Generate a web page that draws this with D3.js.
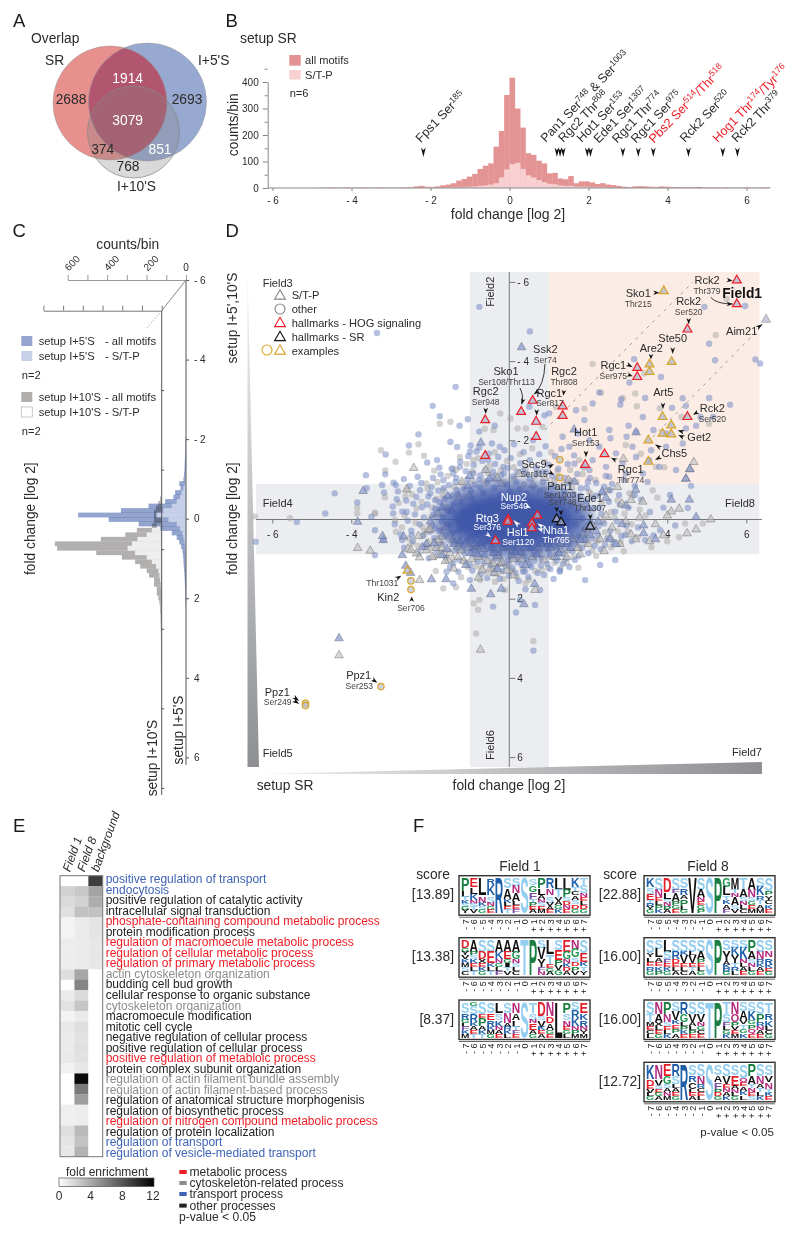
<!DOCTYPE html>
<html><head><meta charset="utf-8">
<script src="https://cdn.jsdelivr.net/npm/d3@7"></script>
<style>html,body{margin:0;background:#fff}svg{display:block;font-family:"Liberation Sans",Arial,sans-serif}</style>
</head><body><script>
// ---------- DATA ----------
const vennCounts = {sr:2688, sr5:1914, i5:2693, all:3079, sr10:374, i510:851, i10:768};

const histBinWidth = 0.135;
const histFirstBin = -36; // bin index of first value, bin k starts at k*width
const histAll = [1,1,2,1,1,2,1,1,2,1,1,2,1,1,1,2,2,3,6,8,5,4,6,10,13,18,28,34,43,53,72,84,93,156,215,351,416,300,228,131,125,103,93,55,57,36,33,45,18,25,25,21,15,18,13,11,8,5,3,6,7,6,5,4,6,5,4,3,2,3,2,4,2,2,2,1,2,1,1,1,2,1,1,2,2];
const histSTP = [0,0,0,0,0,0,0,1,0,0,1,0,0,1,0,0,0,1,1,1,2,2,1,1,2,3,3,4,5,6,8,10,13,18,40,70,90,95,72,48,40,30,22,16,14,10,8,8,5,5,5,4,3,3,2,2,1,1,1,1,1,1,1,1,1,1,1,0,0,1,0,0,1,0,0,0,0,1,0,0,0,0,0,0,0];
const markerLog2 = [-2.18,1.20,1.28,1.36,1.97,2.05,2.87,3.26,3.64,4.53,5.40,5.77];
const markerLabels = [
 {t:"Fps1 Ser",s:"185"},
 {t:"Pan1 Ser",s:"748",t2:" & Ser",s2:"1003"},
 {t:"Rgc2 Thr",s:"808"},
 {t:"Hot1 Ser",s:"153"},
 {t:"Ede1 Ser",s:"1307"},
 {t:"Rgc1 Thr",s:"774"},
 {t:"Rgc1 Ser",s:"975"},
 {t:"Pbs2 Ser",s:"514",t2:"/Thr",s2:"518",red:1},
 {t:"Rck2 Ser",s:"520"},
 {t:"Hog1 Thr",s:"174",t2:"/Tyr",s2:"176",red:1},
 {t:"Rck2 Thr",s:"379"}];

const rotBinWidth = 0.113;
const rot5Start = -2.074;
const rot5All = [2,3,3,4,5,6,7,8,10,13,34,28,55,64,106,190,330,547,392,240,130,72,47,34,25,18,15,13,12,10,8,7,6,5,4,3,3,2];
const rot5STP = [0,0,0,0,0,1,1,2,3,4,6,13,22,30,47,72,115,150,89,47,30,18,13,8,6,4,3,2,2,1,1,1,0,0,0,0,0,0];
const rot10Start = -1.327;
const rot10All = [8,17,29,39,39,39,50,126,185,308,542,530,332,202,135,109,76,64,39,39,25,25,17,12,8,8,6,6,5,5,4,4,3,3,3,3,2,2];
const rot10STP = [0,0,0,0,0,0,25,50,76,123,151,173,135,76,50,29,17,12,8,5,3,2,1,1,1,0,0,0,0,0,0,0,0,0,0,0,0,0];

const dotsBlue = [[-.76,-5.37],[-3.35,-4.71],[-1.36,-3.35],[-1.94,-2.87],[-1.76,-2.61],[-1.26,-2.37],[-1.05,-2.53],[-.37,-2.37],[-.76,-2.22],[-2.3,-2.15],[-1.49,-1.96],[-2.54,-1.87],[-3.13,-1.64],[-.98,-1.87],[-1,-1.71],[-1.32,-1.83],[-.76,-1.82],[-1.83,-1.5],[-2.08,-1.44],[-1.77,-1.31],[-3.63,-1.12],[-3.14,-1.14],[-2.67,-1.02],[-2.32,-1.08],[-2.93,-.93],[-3.22,-.87],[-3.61,-.79],[-2.87,-.87],[-4.42,-.66],[-3.17,-.68],[-3.85,-.43],[-4.66,-.15],[-2.85,-.51],[-2.26,-.74],[-1.97,-.82],[-1.67,-.99],[-1.42,-1.16],[-1.25,-1.33],[-.91,-1.16],[-.53,-1.5],[-.24,-1.84],[-.15,-1.33],[-.41,-1.08],[-.74,-.82],[-1.33,-.74],[-1.88,-.49],[-2.43,-.4],[-2.6,-.19],[-2.94,-.15],[-3.49,-.07],[-5.38,.06],[-6.42,.56],[-3.4,.9],[-3.4,.27],[-3.19,.52],[-2.71,.52],[-2.47,.39],[-2.01,.31],[-1.42,1.61],[-1.29,1.32],[-.41,2.2],[.17,2.35],[.61,3.31],[.35,1.32],[.41,1.76],[-1,1.53],[-1.59,1.32],[-1.42,1.11],[-1.84,.69],
[.52,-4.75],[5.06,-4.44],[5.21,-4.02],[6.23,-4.04],[6.35,-3.94],[5.97,-5.39],[4.94,-5.37],[3.84,-3.6],[3.04,-3.46],[3.16,-4.05],[2.28,-3.21],[2.81,-2.9],[3.44,-3.07],[2.83,-3.03],[4.39,-3.06],[5.06,-3.07],[5.59,-2.9],[4.47,-2.87],[4.84,-2.59],[5.16,-2.59],[4.12,-2.82],[3.38,-2.59],[3.02,-2.37],[3.21,-2.21],[3.65,-2.26],[3.97,-2.17],[4.47,-2.3],[4.73,-2.37],[2.11,-2.93],[1.01,-2.68],[.89,-2.63],[.51,-2.85],[1.69,-2.76],[1.9,-2.51],[2.53,-2.26],[2.56,-2.05],[2.97,-2.09],[3.12,-1.84],[3.59,-1.75],[3.97,-1.84],[4.39,-1.92],[1.73,-2.17],[1.35,-2.09],[2.03,-2],[1.52,-1.84],[2.28,-1.84],[2.7,-1.67],[2.11,-1.5],[1.65,-1.41],[3.21,-1.58],[3.54,-1.5],[2.87,-1.41],[2.45,-1.33],[2.03,-1.25],[2.53,-1.08],[2.95,-1.16],[3.38,-1.16],[3.8,-1.33],[4.22,-1.25],
[2.55,-.74],[2.8,-.37],[3.18,-.62],[3.56,-.19],[4.07,-.62],[4.52,-.29],[3.44,.52],[2.93,.39],[3.82,.27],[2.42,.64],[2.3,1.15],[1.92,1.53],[1.28,1.28],[.78,1.78],[1.66,1.02],[2.68,1.02],[.52,1.15],[1.03,.9],[.65,2.16],[.27,2.03],
[-2.21,-.31],[-2.05,-.58],[-1.92,-.12],[-1.88,.21],[-1.76,-.44],[-1.71,.05],[-1.66,-.79],[-1.62,.38],[-1.55,-.23],[-1.49,.14],[-1.44,-.61],[-1.41,.52],[-1.36,-.95],[-1.33,-.07],[-1.28,.29],[-1.22,-.41],[-1.18,.66],[-1.15,-.78],[-1.11,.11],[-1.06,-1.02],[-1.02,-.19],[-.98,.44],[-.95,-.55],[-.91,.78],[-.88,-.88],[-.84,.02],[-.81,.31],[-.77,-.33],[-.73,-1.11],[-.7,.59],[-.66,-.68],[-.63,.9],[-.6,-.12],[-.55,-.97],[-.52,.24],[-.48,-.49],[-.45,.72],[-.41,-1.21],[-.38,-.8],[-.35,.98],[-.3,-1],[-.26,.85],[-.22,-.62],[-.19,1.12],[-.14,-1.17],[-.11,.63],[-.07,-.88],[-.03,1.04],[.02,-.71],[.06,.88],[.1,-1.09],[.13,.7],[.18,-.94],[.22,1.08],[.26,-.77],[.31,.82],[.35,-1.24],[.38,.93],[.43,-.66],[.47,1.02],[.52,-1.03],[.56,.74],[.6,-.82],[.64,.9],[.69,-1.15],[.72,.63],[.77,-.73],[.81,.99],[.86,-.95],[.9,.55],[.94,-1.2],[.99,.76],[1.03,-.62],[1.08,.44],[1.12,-.84],[1.17,.68],[1.22,-1.06],[1.26,.33],[1.3,-.48],[1.35,.87],[1.39,-.71],[1.44,.21],[1.49,-.92],[1.53,.58],[1.57,-.36],[1.62,-.64],[1.67,.12],[1.71,-.22],[1.76,.41],[1.81,-.79],[1.85,-.03],[1.9,.25],[1.95,-.46],[1.99,-.95],[2.04,.09],[2.09,.48],[2.14,-.28],[2.2,-.6],[2.26,.17],[2.33,-.14],[2.4,-.83],
[-2.95,-.33],[-2.9,.12],[-2.82,-.71],[-2.75,.38],[-2.71,-.2],[-2.66,.71],[-2.61,-.48],[-2.57,.03],[-2.52,-.85],[-2.48,.28],[-2.44,.55],[-2.39,-.13],[-2.35,-.57],[-2.3,.86],[-2.27,.12],[-2.23,-.92],[-2.19,.41],[-2.16,-.05],[-2.12,.69],[-2.08,-.38],[-2.04,.98],[-2,-.66],[-1.96,.16],[-1.93,-1.05],[-1.9,.47],[-1.87,-.27],[-1.84,.83],[-1.8,-.73],[-1.77,.29],[-1.74,-1.14],[-1.7,.63],[-1.68,-.06],[-1.64,-.52],[-1.6,.95],[-1.57,.12],[-1.53,-.87],[-1.5,1.2],[-1.46,-1.28],[-1.43,.33],[-1.4,-.4],[-1.37,.78],[-1.34,-1.05],[-1.3,-.63],[-1.27,1.02],[-1.24,-1.46],[-1.2,.23],[-1.17,-.2],[-1.14,.86],[-1.1,-1.22],[-1.07,.53],[-1.04,-1.6],[-1,1.15],[-.97,-.72],[-.94,1.29],[-.9,-1.38],[-.87,.39],[-.83,-1.72],[-.8,1.06],[-.76,-1],[-.72,1.38],[-.68,-1.48],[-.64,1.1],[-.6,-1.25],[-.56,1.48],[-.52,-1.66],[-.48,1.15],[-.44,-1.92],[-.4,1.36],[-.36,-1.4],[-.32,1.22],[-.28,-1.58],[-.24,1.5],[-.2,-1.12],[-.16,1.3],[-.12,-1.75],[-.08,1.18],[-.04,-1.3],[0,1.42],[.04,-1.55],[.08,1.22],[.12,-1.9],[.16,1.35],[.2,-1.2],[.24,1.55],[.28,-1.42],[.32,1.15],[.36,-1.7],[.4,1.3],[.44,-1.15],[.48,1.45],[.52,-1.5],[.56,1.2],[.6,-2],[.64,1.05],[.68,-1.3],[.72,1.35],[.76,-1.65],[.8,1.16],[.84,-1.2],[.88,1.4],[.92,-1.85],[.96,1.12],[1,-1.38],[1.04,1.25],[1.08,-1.1],[1.12,1.5],[1.16,-1.6],[1.2,1.05],[1.24,-1.28],[1.28,1.32],[1.32,-1.78],[1.36,1.12],[1.4,-1.05],[1.44,.98],[1.48,-1.4],[1.52,1.2],[1.56,-.98],[1.6,.8],[1.64,-1.62],[1.68,.62],[1.72,-1.15],[1.76,.92],[1.8,-.6],[1.84,.72],[1.88,-1.32],[1.92,.5],[1.96,-.8],[2,.85],[2.04,-1.05],[2.08,.22],[2.12,-.55],[2.16,.66],[2.2,-.92],[2.24,.4],[2.28,-.3],[2.32,.75],[2.36,-.68],[2.4,.1],[2.44,-1.1],[2.48,.48],[2.52,-.45],[2.56,.28],[2.6,-.9],[2.64,.58],[2.68,-.2],[2.72,.05],[2.78,-.62],[2.84,.42],[2.9,-1],[2.96,.15],[3.02,-.3],[3.1,.55],[3.18,-.85],[3.26,.2],[3.34,-.5],[3.5,-.95],[3.65,.4],[3.9,-.3],[4.2,.15],[4.6,-.85]];
const dotsGray = [[-1.76,-2.42],[-1.49,-2.47],[-.62,-2.29],[-.4,-2.26],[-.23,-2.68],[.03,-2.55],[-2.3,-1.9],[-3.25,-1.75],[-2.54,-1.69],[-2.16,-1.61],[-2.88,-1.46],[-1.9,-1.23],[-1.42,-1.29],[-3.14,-1.24],[-2.59,-.74],[-3.15,-.56],[-2.63,-.59],[-3.85,-.3],[-3.4,-.15],[-6.44,-.08],[-2.35,-.28],[-1.67,-.74],[-2.1,-.91],[-1.25,-1.58],[-.53,-1.16],[-.91,-1.5],[-1,-.66],
[2.11,-3.93],[5.23,-4.66],[5.5,-5.57],[3.42,-3.69],[3.19,-3.18],[2.87,-3.07],[3.23,-2.86],[3.81,-2.81],[4.36,-2.59],[5.06,-2.42],[3.92,-1.32],[3.71,-1.33],[2.32,-3.2],[1.9,-2.8],[1.18,-2.85],[.84,-2.34],[.42,-2.3],[.21,-2.3],[2.95,-1.88],[3.33,-1.66],[3.63,-.74],[3.04,-.66],[2.53,-.74],[1.77,-1.5],
[-5.55,-.03],[-3.85,-.15],[-3.4,-.17],[-2.87,.31],[-2.89,.02],[-2.16,.39],[-2.47,.6],[-1.86,1.3],[-1.67,1.74],[-1.35,1.71],[-1.22,1.46],[-.9,2.12],[-.76,2.03],[-.79,2.28],[-.84,2.88],[.61,3.07],[-.74,1.53],[-.36,1.57],[-.11,1.78],[.41,1.61],[.1,1.3],[-.5,1.25],[-1.05,1.2],[-1.6,.98],[-1.9,.55],[-2.2,.18],
[-1.98,-.05],[-1.84,-.52],[-1.72,.24],[-1.58,-.31],[-1.52,.47],[-1.39,-.83],[-1.3,.09],[-1.24,.61],[-1.12,-.57],[-1.07,.3],[-.94,-.97],[-.86,.71],[-.79,-.21],[-.68,.95],[-.58,-.91],[-.46,1.07],[-.33,-1.12],[-.24,.92],[-.12,-.95],[-.01,1.13],[.12,-1.02],[.24,.96],[.37,-.89],[.49,1.1],[.63,-1.09],[.76,.86],[.88,-.77],[1.01,.95],[1.14,-.98],[1.24,.61],[1.37,-.53],[1.48,.78],[1.59,-.8],[1.69,.47],[1.83,-.35],[1.96,.35],[2.06,-.66],[2.21,.55],[2.37,.05],[2.58,-.19],[2.75,.3],[3.1,.12],[3.3,-.25],[2.2,.92],[1.75,1.22],[1.38,1.05],[2.9,.8],[3.6,.7],[4.3,.45],[4.9,.1],
[-2.8,-.42],[-2.72,.2],[-2.65,-.1],[-2.55,.48],[-2.46,-.63],[-2.38,.08],[-2.31,.66],[-2.22,-.45],[-2.15,.3],[-2.07,-.78],[-2.01,.74],[-1.95,-.3],[-1.89,.95],[-1.82,-.95],[-1.75,.58],[-1.69,-.62],[-1.63,.8],[-1.56,-1.1],[-1.48,.35],[-1.42,1],[-1.35,-1.25],[-1.29,.75],[-1.21,-.92],[-1.13,1.05],[-1.08,-1.4],[-1,.62],[-.93,-1.22],[-.85,1.18],[-.79,-1.55],[-.71,1.22],[-.65,-.97],[-.57,1.33],[-.5,-1.35],[-.43,1.25],[-.37,-1.7],[-.29,1.38],[-.21,-1.25],[-.14,1.5],[-.06,-1.48],[.03,1.28],[.11,-1.32],[.19,1.45],[.27,-1.65],[.34,1.25],[.42,-1.28],[.5,1.52],[.58,-1.8],[.66,1.3],[.74,-1.18],[.82,1.28],[.9,-1.45],[.98,1.22],[1.06,-1.7],[1.14,1.1],[1.22,-1.22],[1.3,1.22],[1.38,-.9],[1.46,1.1],[1.54,-1.25],[1.62,.95],[1.7,-.95],[1.78,.7],[1.86,-1.15],[1.94,.6],[2.02,-.7],[2.1,.78],[2.18,-1],[2.26,.52],[2.34,-.42],[2.42,.32],[2.5,-.75],[2.58,.7],[2.66,-.05],[2.74,-.48],[2.82,.58],[2.92,-.15],[3,.3],[3.12,-.6],[3.25,.45],[3.45,-.1],[3.75,-.55],[4,.55],[4.45,.1]];
const triBlue = [[.31,-4.35],[-3.7,-.72],[-.72,-1.94],[-1.56,-.59],[-3.84,.06],[-2.62,1.17],[-1.97,1.51],[-4.31,3],[-2.5,1.35],[-1.6,1.51],[-.96,1.75],[-.47,1.89],[-.2,1.75],[.37,2.14],[.64,1.63],[1.64,-2.27],[3.21,-2.2],[4.56,-.5],[4.1,-.5],[4.73,-.06],[4.47,-1.03],[4.57,-1.27],[-3.19,.52],[-2.71,.9],[-3.21,.42],[-2.68,.43],[1.9,.52],[3.4,.35],[2.7,.62],[1.2,.95],[.4,1.15],[-.3,1.25],[-1.1,1.15],[-1.7,.9],[-2.1,.62],[-1.4,.62],[-.8,.88],[-.55,.55],[.55,.7],[1.45,.62],[2.2,.3],[2.95,-.35],[3.2,-.75],[2.45,-.55],[-1.05,-.85],[-1.45,-.22],[-.5,-1.03],
[-2.2,.7],[-1.9,.6],[-1.58,.75],[-1.25,.55],[-.98,.85],[-.72,.6],[-.4,.85],[-.12,.62],[.15,.82],[.42,.62],[.7,.88],[.98,.62],[1.25,.85],[1.55,.72],[1.8,.52],[2.05,.4],[2.25,.05],[2.55,.5],[2.85,.12],[3.4,.15],[3.7,.5],[2,-.3],[2.35,-.7],[1.65,-.95],[-1,-1.1],[-2,.05],[-1.7,-.3]];
const triGray = [[-2.42,-1.3],[-2.6,-.76],[-1.28,-.55],[-3.52,.79],[-3.84,.72],[-4.31,3.43],[-.73,3.29],[-2.27,1.53],[-2.57,.74],[-2.49,.77],[-2.35,.86],[-2.27,.96],[-1.75,.9],[-1.54,1.03],[-1.41,1.24],[-.68,1.27],[-.38,1.35],[-.07,1.29],[.1,1.41],[-.78,1.47],[-.24,1.11],[-.41,1.11],[.65,1.78],[-1.8,.52],[-2.05,.6],[-2.05,.26],[-1.7,.43],[-.83,.68],[-1.3,.68],[-1,.47],[2.89,-1.53],[4.67,-1.45],[4.57,-1.27],[4.47,-1.03],[3.38,-.45],[3.3,-.05],[3.08,.38],[2.74,-.82],[3.08,-.49],[4.1,-.2],[4.3,-.27],[2.95,.05],[4.73,.25],[4.5,.35],[5.1,0],[2.4,.8],[1.8,.88],[1.3,.76],[.8,.6],[.3,.82],[-.15,.72],[.1,1],[1,.55],[1.95,.2],[2.55,.45],[3.7,.12],[-.2,-.9],[.6,-.88],[1.2,-.55],[-.9,-.38],[-1.6,.2],
[-2.1,.78],[-1.95,.95],[-1.85,.72],[-1.7,.72],[-1.62,1.05],[-1.5,.85],[-1.42,.52],[-1.3,.95],[-1.22,.78],[-1.15,1.05],[-1.05,.72],[-.95,1],[-.88,.62],[-.78,.95],[-.65,.75],[-.55,1.05],[-.42,.72],[-.3,.92],[-.18,1.08],[-.05,.7],[.07,.9],[.2,.72],[.32,1],[.45,.72],[.58,.95],[.72,.72],[.88,1.02],[1.05,.72],[1.15,.95],[1.32,.62],[1.45,.95],[1.6,.5],[1.72,.72],[1.85,.35],[2,.62],[2.1,.15],[2.3,.5],[2.45,-.1],[2.6,.2],[2.8,.62],[2.85,-.4],[3.2,.5],[3.55,.55],[3.9,.4],[4,-.1],[-.6,-1.25],[-.3,-1.05],[.25,-1.15],[.9,-1.05],[1.5,-1],[-1.2,-.95],[-1.8,-.15],[-2.3,.42],[-2,.25]];
const hallRed = [[-.61,-2.51],[-.61,-1.61],[.3,-2.72],[.59,-3],[.68,-2.47],[.68,-2.09],[1.35,-2.86],[1.35,-2.62],[3.24,-3.83],[3.24,-3.6],[5.76,-6.04],[5.76,-5.44],[4.51,-4.8],[4.51,-2.59],[2.41,-1.65],[1.92,-1.38],[.71,-.1],[-.03,0],[-.04,.06],[.57,.1],[.57,.22],[-.35,.54]];
const hallBlack = [[1.2,-.01],[1.31,.07],[2.05,.18]];
const exampleTri = [[3.91,-5.77],[3.55,-3.92],[3.55,-3.73],[4.11,-3.98],[3.88,-2.59],[4.1,-2.38],[3.88,-2.17],[4.1,-2.15],[3.52,-2],[3.52,-1.46],[-2.58,1.29]];
const exampleCircle = [[1.28,-1.51],[1.28,-1.06],[-2.49,1.55],[-2.49,1.77],[-3.25,4.22],[-5.16,4.64],[-5.16,4.7]];
const outlierTri = [[6.5,-5.05]];
const coreCenter = [.1,0];
const coreRx = [2.05,1.8,1.5];
const coreRy = [1.02,.82,.6];
const coreLevel = [.5,.6,.92];

const goTerms = ["positive regulation of transport","endocytosis","positive regulation of catalytic activity","intracellular signal transduction","phosphate-containing compound metabolic process","protein modification process","regulation of macromoecule metabolic process","regulation of cellular metabolic process","regulation of primary metabolic process","actin cytoskeleton organization","budding cell bud growth","cellular response to organic substance","cytoskeleton organization","macromoecule modification","mitotic cell cycle","negative regulation of cellular process","positive regulation of cellular process","positive regulation of metabloic process","protein complex subunit organization","regulation of actin filament bundle assembly","regulation of actin filament-based process","regulation of anatomical structure morphogenisis","regulation of biosynthetic process","regulation of nitrogen compound metabolic process","regulation of protein localization","regulation of transport","regulation of vesicle-mediated transport"];
const goClass = ["t","t","o","o","m","o","m","m","m","c","o","o","c","o","o","o","o","m","o","c","c","o","o","m","o","t","t"];
const heatCols = ["Field 1","Field 8","background"];
const heatField1 = [0,2.2,1.8,1.5,.6,.6,.9,.9,.9,1.6,0,1,1.4,.6,1.1,1,1,1.1,.7,0,0,0,.8,.8,1.6,1.3,1.2];
const heatField8 = [0,2.7,2.2,3,1,1,1,1,1,4.3,6,1.8,2.8,1,1.6,1.4,1.5,1.4,1.2,12,6.5,4.8,.9,.9,3.4,3,3.7];
const heatBack   = [9.5,4.5,4,3,1.3,1.3,1.2,1.2,1.2,0,0,0,0,0,0,0,0,0,0,0,0,0,0,0,0,0,0];
const legendKinds = [["metabolic process","m"],["cytoskeleton-related process","c"],["transport process","t"],["other processes","o"]];

const logoField1 = [
 {score:"[13.89]",cols:["P4L2T1K1S1G1Y1","E3L2K2N1S1T1V1","L5N2K1S1G1","R2K3S2N1G1E1","R12","S3A3K1L1E1T1","S2N2A2L1E1F1","S12","S2G2F2T1P1E1A1","P3L2A1N1S1E1M1","R3N2S2V1A1E1","L3T2V1A1G1K1","L3P2S1D1N1E1","K2T1C1A1S1D1G1","T2S2N1E1L1D1G1"]},
 {score:"[13.38]",cols:["D2G1Y1V1K1M1S1C1","A3P1S1K1E1L1T1","S3D2X1E1K1G1","S3E3K1L1T1","A3K2N1G1L1F1","A3E2G1I1T1V1","A3G2N1S1L1C1","T12","P12","S2V3Y2F1N1","L4T3E1G1A1","S2E2P1V1G1","E3G2N1K1D1A1","N2G2S1D1P1V1","S3E2K1T1Y1"]},
 {score:"[8.37]",cols:["S3R2G1L1F1K1M1","G1S2R2K1A1E1T1","S3E1P2A1K1T1","S3E2R2K1M1G1","L3S2K2N1A1E1","S3N3A1R1K1L1","N3A2L2T1F1E1","S12","T3S2N1E2A1G1","D4S1V2K1E1A1","N4D2A2G1E1","L12","P3S2N2E1G1L1","S2R2K2N1P1M1","E3K2R2N1Y1M1"]}];
const logoField8 = [
 {score:"[22.88]",cols:["K3S2E2T1R1Y1G1","S3N2E1L1P1K1","D4L2S1N1P1A1","S3F1A2P1G1E1","S3R2A1P2L1G1","V12","S3A2N1E1G1P1","S12","P12","G2L2T1K1A1F1","M3T1N1A2S1V1","T3A2S1N1L1C1","A3N2S1G1E1M1","S2K2R1T1A1M1","S3P1Y1C1K1E1"]},
 {score:"[16.00]",cols:["S3Y1L1E1R1G1","S2L2A1E1K1P1","L3S2F1E1K1G1","S3R2D1E1L1A1","S3K1V2E1L1C1","S3L1V2E1T1A1","S3A2P1E1L1G1","S12","P12","S3Y3A1K1R1G1","S2K2Y2T1R1L1","S2K3N1L1A1E1","P3A2S1N1L1G1","S3N2R1K1A1E1","S3N2R2K1E1G1"]},
 {score:"[16.00]",cols:["S3T2M1E1C1L1","N3A2X1L1E1G1","P3N2S1E1L1K1","S2V2K1E1P1A1","R3G2L1P1K1E1","S3V2A1L1P1E1","S3V2N1G1C1E1","T12","P12","T3S2F1L1G1K1","N3O2P1V1E1M1","S2A2V1T1G1K1","S2K2G1P1Q1E1","S3P2R1N1A1E1","T3R2K2L1C1G1"]},
 {score:"[12.72]",cols:["K4D2E1V1L1G1","N4V2S1E1G1A1","E3G2S1A1N1M1","R3S2L1A1E1G1","R12","S3R2C2L1E1A1","S3N2R1C1E1L1","S12","S3A2F2P1D1G1","S3V2E1N1A1K1","S3E3A1N1L1G1","S3O1E1A1K1L1","P3A2T1N1E1S1","S3N2A1T1L1K1","S3V2N2T1K1E1"]}];

// ---------- SETUP ----------
const svg = d3.select("body").append("svg").attr("width",800).attr("height",1237);
const defs = svg.append("defs");
const INK="#2b2b2b", RED="#ee1c25";
function T(x,y,str,o={}){
  const t=svg.append("text").attr("x",x).attr("y",y).attr("dy",o.dy===undefined?".35em":o.dy)
    .attr("font-size",o.size||13.8).attr("fill",o.fill||INK).attr("text-anchor",o.anchor||"start")
    .text(str);
  if(o.rot!==undefined) t.attr("transform",`rotate(${o.rot} ${x} ${y})`);
  if(o.weight) t.attr("font-weight",o.weight);
  if(o.italic) t.attr("font-style","italic");
  return t;
}
function arrow(x1,y1,x2,y2,fill="#111",w=2.3){
  const dx=x2-x1,dy=y2-y1,L=Math.hypot(dx,dy),ux=dx/L,uy=dy/L,nx=-uy,ny=ux;
  const p=[[x2,y2],[x1+nx*w,y1+ny*w],[x1+ux*L*.28,y1+uy*L*.28],[x1-nx*w,y1-ny*w]];
  svg.append("path").attr("d","M"+p.map(a=>a.join(",")).join("L")+"Z").attr("fill",fill);
}
function curve(x1,y1,cx,cy,x2,y2){
  svg.append("path").attr("d",`M${x1},${y1}Q${cx},${cy} ${x2},${y2}`).attr("fill","none").attr("stroke","#222").attr("stroke-width",.9);
  const dx=x2-cx,dy=y2-cy,L=Math.hypot(dx,dy);
  arrow(x2-dx/L*6,y2-dy/L*6,x2,y2);
}
function styleAxis(g,color="#777"){
  g.selectAll("path.domain").attr("stroke",color).attr("stroke-width",1);
  g.selectAll("line").attr("stroke",color).attr("stroke-width",1);
  g.selectAll("text").attr("fill",INK).attr("font-family","inherit");
}
const signed = v => v<0 ? "- "+Math.abs(v) : ""+v;

// panel letters
[["A",13,26.7],["B",225.5,26.7],["C",12.5,237],["D",225.5,237],["E",13,831.7],["F",413,831.7]]
 .forEach(d=>T(d[1],d[2],d[0],{size:18.5,dy:0,fill:"#1a1a1a"}));

// ---------- A: VENN ----------
(function(){
  const c={sr:[110,103,57],i5:[147.5,102,59],i10:[133.5,132,46]};
  svg.append("circle").attr("cx",c.sr[0]).attr("cy",c.sr[1]).attr("r",c.sr[2]).attr("fill","#e8908e");
  svg.append("circle").attr("cx",c.i5[0]).attr("cy",c.i5[1]).attr("r",c.i5[2]).attr("fill","#98a9d1");
  defs.append("clipPath").attr("id","clipSR").append("circle").attr("cx",c.sr[0]).attr("cy",c.sr[1]).attr("r",c.sr[2]);
  svg.append("circle").attr("clip-path","url(#clipSR)").attr("cx",c.i5[0]).attr("cy",c.i5[1]).attr("r",c.i5[2]).attr("fill","#b2566f");
  [c.sr,c.i5].forEach(q=>svg.append("circle").attr("cx",q[0]).attr("cy",q[1]).attr("r",q[2]).attr("fill","none").attr("stroke","#999").attr("stroke-opacity",.7).attr("stroke-width",.7));
  svg.append("circle").attr("cx",c.i10[0]).attr("cy",c.i10[1]).attr("r",c.i10[2]).attr("fill","rgb(130,130,130)").attr("fill-opacity",.3).attr("stroke","#888").attr("stroke-width",.7);
  T(31,38,"Overlap"); T(45,60,"SR"); T(198,60,"I+5'S"); T(117,186,"I+10'S");
  [[vennCounts.sr,71,98.7,INK],[vennCounts.sr5,127.7,77.7,"#fff"],[vennCounts.i5,187,98.7,INK],[vennCounts.all,127.7,120,"#fff"],[vennCounts.sr10,102.7,149,INK],[vennCounts.i510,160,149,"#fff"],[vennCounts.i10,128,166,INK]]
   .forEach(d=>T(d[1],d[2],d[0],{anchor:"middle",fill:d[3]}));
})();

// ---------- B: HISTOGRAM ----------
(function(){
  const x=d3.scaleLinear().domain([-6,6]).range([272.5,746.5]);
  const y=d3.scaleLinear().domain([0,400]).range([188,82]);
  const bar=(arr,fill)=>svg.append("g").selectAll("rect").data(arr).join("rect")
     .attr("x",(d,i)=>x((histFirstBin+i)*histBinWidth)).attr("width",x(histBinWidth)-x(0)+.3)
     .attr("y",d=>y(d)).attr("height",d=>y(0)-y(d)).attr("fill",fill);
  bar(histAll,"#e39393"); bar(histSTP,"#f8d0d1");
  const gx=svg.append("g").attr("transform","translate(0,188)").call(d3.axisBottom(x).tickValues([-6,-4,-2,0,2,4,6]).tickFormat(signed).tickSize(3).tickSizeOuter(0).tickPadding(6));
  gx.select(".domain").attr("d","M267.7,0H770");
  styleAxis(gx,"#888"); gx.selectAll("text").attr("font-size",10);
  const gy=svg.append("g").attr("transform","translate(267.7,0)").call(d3.axisLeft(y).tickValues(d3.range(0,451,50)).tickFormat(d=>d%100?"":d).tickSizeOuter(0).tickPadding(3));
  styleAxis(gy,"#888"); gy.selectAll("text").attr("font-size",10);
  gy.selectAll(".tick line").attr("x2",d=>d%100?-3:-5);
  T(232.7,124.7,"counts/bin",{rot:-90,anchor:"middle"});
  T(508,214,"fold change [log 2]",{anchor:"middle",size:14});
  T(240,38,"setup SR");
  svg.append("rect").attr("x",289.3).attr("y",55).attr("width",11.4).attr("height",10.7).attr("fill","#e39393");
  svg.append("rect").attr("x",289.3).attr("y",70).attr("width",11.4).attr("height",9.5).attr("fill","#f8d0d1");
  T(305,60.3,"all motifs",{size:11.1}); T(305,75,"S/T-P",{size:11.1}); T(289.7,92.7,"n=6",{size:11.1});
  markerLog2.forEach(v=>arrow(x(v),147.5,x(v),157,"#111",2.4));
  const starts=[[420.7,143.3],[545.7,143],[563.3,143],[581.7,143],[598.7,143.7],[617.3,143.7],[636,143.7],[654,143.7],[685,143],[717.7,143],[736.7,143]];
  markerLabels.forEach((m,i)=>{
    const [sx,sy]=starts[i];
    const t=svg.append("text").attr("transform",`translate(${sx},${sy}) rotate(-46)`).attr("font-size",12.5).attr("fill",m.red?RED:INK);
    t.append("tspan").text(m.t);
    t.append("tspan").attr("dy",-4.5).attr("font-size",8.8).text(m.s);
    if(m.t2){ t.append("tspan").attr("dy",4.5).text(m.t2); t.append("tspan").attr("dy",-4.5).attr("font-size",8.8).text(m.s2); }
  });
})();

// ---------- C: ROTATED HISTOGRAMS ----------
(function(){
  const y1=d3.scaleLinear().domain([-6,6]).range([280,757.4]);
  const y2=d3.scaleLinear().domain([-6,6]).range([310.5,787.9]);
  const c1=d3.scaleLinear().domain([0,600]).range([186,67.7]);
  const c2=d3.scaleLinear().domain([0,600]).range([161.7,43.4]);
  const rows=(arr,start,y,c,fill,extra)=>{const g=svg.append("g").selectAll("rect").data(arr).join("rect")
      .attr("x",d=>c(d)).attr("width",d=>c(0)-c(d))
      .attr("y",(d,i)=>y(start+i*rotBinWidth)).attr("height",y(rotBinWidth)-y(0)+.3).attr("fill",fill); if(extra) g.style("mix-blend-mode",extra);};
  rows(rot10All,rot10Start,y2,c2,"#b2afaf");
  rows(rot10STP,rot10Start,y2,c2,"#eeeeee");
  rows(rot5All,rot5Start,y1,c1,"#93a4cf","multiply");
  rows(rot5STP,rot5Start,y1,c1,"#c6d0e9");
  const a1=svg.append("g").attr("transform","translate(186,0)").call(d3.axisRight(y1).tickValues([-6,-4,-2,0,2,4,6]).tickFormat(signed).tickSize(3).tickPadding(5).tickSizeOuter(0));
  styleAxis(a1,"#555"); a1.selectAll("text").attr("font-size",10);
  a1.select(".domain").attr("d","M0,280V765");
  const a2=svg.append("g").attr("transform","translate(161.7,0)").call(d3.axisRight(y2).tickValues([-4,-2,0,2,4,6]).tickFormat("").tickSize(2.5).tickSizeOuter(0));
  styleAxis(a2,"#555");
  a2.select(".domain").attr("d","M0,310.7V795");
  const h1=svg.append("g").attr("transform","translate(0,280)").call(d3.axisTop(c1).tickValues(d3.range(0,601,100)).tickFormat("").tickSize(5).tickSizeOuter(0));
  styleAxis(h1,"#999");
  const h2=svg.append("g").attr("transform","translate(0,310.7)").call(d3.axisTop(c2).tickValues(d3.range(0,601,100)).tickFormat("").tickSize(5).tickSizeOuter(0));
  styleAxis(h2,"#777");
  svg.append("line").attr("x1",186).attr("y1",280).attr("x2",161.7).attr("y2",310.7).attr("stroke","#888");
  svg.append("line").attr("x1",161.7).attr("y1",310.7).attr("x2",147).attr("y2",328).attr("stroke","#999").attr("stroke-dasharray","1.2 1.8");
  [[600,263],[400,263],[200,263]].forEach(d=>T(c1(d[0])+4.5,d[1],d[0],{size:10,anchor:"middle",rot:-45}));
  T(186,267.5,"0",{size:10,anchor:"middle"});
  T(127.7,244.3,"counts/bin",{anchor:"middle"});
  T(30,518.7,"fold change [log 2]",{rot:-90,anchor:"middle",size:13.8});
  T(152.3,758,"setup I+10'S",{rot:-90,anchor:"middle"});
  T(178.3,730,"setup I+5'S",{rot:-90,anchor:"middle"});
  const leg=[[336,"#93a4cf","setup I+5'S","- all motifs",340.7],[351,"#c6d0e9","setup I+5'S","- S/T-P",355.7],[392,"#b2afaf","setup I+10'S","- all motifs",397.3],[407,"#fff","setup I+10'S","- S/T-P",412.3]];
  leg.forEach(d=>{
    svg.append("rect").attr("x",21.3).attr("y",d[0]).attr("width",11).attr("height",10).attr("fill",d[1]).attr("stroke",d[1]=="#fff"?"#bbb":"none").attr("stroke-width",.8);
    T(38.7,d[4],d[2],{size:11.2}); T(105,d[4],d[3],{size:11.2});
  });
  T(21.7,375,"n=2",{size:11.2}); T(21.7,430.7,"n=2",{size:11.2});
})();

// ---------- D: SCATTER ----------
(function(){
  const x=d3.scaleLinear().domain([-6,6]).range([272.3,746.3]);
  const y=d3.scaleLinear().domain([-6,6]).range([281.9,757.1]);
  const g=svg.append("g");
  const rect=(x0,y0,x1,y1,f)=>g.append("rect").attr("x",x(x0)).attr("y",y(y0)).attr("width",x(x1)-x(x0)).attr("height",y(y1)-y(y0)).attr("fill",f);
  rect(1,-6.25,6.33,-.9,"#fbece6");
  rect(-1,-6.25,1,6.25,"#ecedf0");
  rect(-6.41,-.9,6.33,.88,"#ecedf0");
  const gr1=defs.append("linearGradient").attr("id","gv").attr("x1",0).attr("y1",0).attr("x2",0).attr("y2",1);
  gr1.append("stop").attr("offset",0).attr("stop-color","#f1f1f1"); gr1.append("stop").attr("offset",1).attr("stop-color","#8d8f93");
  const gr2=defs.append("linearGradient").attr("id","gh").attr("x1",0).attr("y1",0).attr("x2",1).attr("y2",0);
  gr2.append("stop").attr("offset",0).attr("stop-color","#f1f1f1"); gr2.append("stop").attr("offset",1).attr("stop-color","#8d8f93");
  svg.append("path").attr("d","M247.5,272L259,767H247.5Z").attr("fill","url(#gv)");
  svg.append("path").attr("d","M258,774L762,762V774Z").attr("fill","url(#gh)");
  [[545,430,693,282],[653,437,756,332]].forEach(d=>svg.append("line").attr("x1",d[0]).attr("y1",d[1]).attr("x2",d[2]).attr("y2",d[3]).attr("stroke","#888").attr("stroke-width",.8).attr("stroke-dasharray","3 5"));
  const ax=svg.append("g").attr("transform",`translate(0,${y(0)})`).call(d3.axisBottom(x).tickValues([-6,-4,4,6]).tickFormat(signed).tickSize(4).tickPadding(7).tickSizeOuter(0));
  ax.select(".domain").attr("d","M256,0H762"); styleAxis(ax,"#777"); ax.selectAll("text").attr("font-size",10);
  const ay=svg.append("g").attr("transform",`translate(${x(0)},0)`).call(d3.axisRight(y).tickValues([-6,-4,-2,2,4,6]).tickFormat(signed).tickSize(6).tickPadding(2).tickSizeOuter(0));
  ay.select(".domain").attr("d","M0,272V767"); styleAxis(ay,"#777"); ay.selectAll("text").attr("font-size",10);
  const dots=(arr,fill,op)=>svg.append("g").selectAll("circle").data(arr).join("circle").attr("cx",d=>x(d[0])).attr("cy",d=>y(d[1])).attr("r",3.2).attr("fill",fill).attr("fill-opacity",op);
  dots(dotsGray,"#a9a7a5",.5);
  dots(dotsBlue,"#6d84c2",.5);
  const sym=d3.symbol().type(d3.symbolTriangle);
  const tri=(arr,size,fill,fo,stroke,sw,so=1)=>svg.append("g").selectAll("path").data(arr).join("path").attr("d",sym.size(size)())
     .attr("transform",d=>`translate(${x(d[0])},${y(d[1])})`).attr("fill",fill).attr("fill-opacity",fo).attr("stroke",stroke).attr("stroke-width",sw).attr("stroke-opacity",so);
  tri(triGray,32,"#bdbcbc",.6,"#6b6b6b",.6,.8);
  tri(triBlue,32,"#8798c9",.7,"#5c6686",.6,.8);
  defs.append("filter").attr("id","soft").attr("x","-30%").attr("y","-30%").attr("width","160%").attr("height","160%").append("feGaussianBlur").attr("stdDeviation",3.2);
  svg.append("g").attr("filter","url(#soft)").selectAll("ellipse").data(coreRx).join("ellipse")
    .attr("cx",x(coreCenter[0])).attr("cy",y(coreCenter[1])).attr("rx",d=>x(d)-x(0)).attr("ry",(d,i)=>y(coreRy[i])-y(0)).attr("fill","#3d56a8").attr("fill-opacity",(d,i)=>coreLevel[i]);
  const hl=(arr,stroke)=>tri(arr,34,"#a9b3d2",.7,stroke,1.2);
  hl(outlierTri,"#bbb");
  hl(exampleTri,"#d9a526");
  svg.append("g").selectAll("circle").data(exampleCircle).join("circle").attr("cx",d=>x(d[0])).attr("cy",d=>y(d[1])).attr("r",3.2).attr("fill","#b9c0d6").attr("fill-opacity",.7).attr("stroke","#d9a526").attr("stroke-width",1.2);
  hl(hallRed,"#ee1c25");
  hl(hallBlack,"#111");

  T(490,291.7,"Field2",{size:11,rot:-90,anchor:"middle"});
  T(262.7,502.7,"Field4",{size:11});
  T(262.7,753.3,"Field5",{size:11});
  T(490,745,"Field6",{size:11,rot:-90,anchor:"middle"});
  T(762,752,"Field7",{size:11,anchor:"end"});
  T(725,502.7,"Field8",{size:11});
  T(762,293,"Field1",{size:13.8,weight:"bold",anchor:"end",fill:"#111"});
  T(232.3,318,"setup I+5',10'S",{rot:-90,anchor:"middle"});
  T(232.3,518.7,"fold change [log 2]",{rot:-90,anchor:"middle"});
  T(256.7,785,"setup SR");
  T(509,785,"fold change [log 2]",{anchor:"middle"});
  T(262.7,282.7,"Field3",{size:11});
  const lt=(lx,ly,stroke)=>svg.append("path").attr("d",d3.symbol().type(d3.symbolTriangle).size(50)()).attr("transform",`translate(${lx},${ly})`).attr("fill","#fff").attr("stroke",stroke).attr("stroke-width",1.1);
  const lc=(lx,ly,stroke)=>svg.append("circle").attr("cx",lx).attr("cy",ly).attr("r",5).attr("fill","#fff").attr("stroke",stroke).attr("stroke-width",1.1);
  lt(280,296,"#888"); T(291.7,295.2,"S/T-P",{size:11.1});
  lc(280,309,"#888"); T(291.7,309.2,"other",{size:11.1});
  lt(280,323.5,"#ee1c25"); T(291.7,323,"hallmarks - HOG signaling",{size:11.1});
  lt(280,337.5,"#111"); T(291.7,337,"hallmarks - SR",{size:11.1});
  lc(267,350,"#d9a526"); lt(280,351,"#d9a526"); T(291.7,350.7,"examples",{size:11.1});

  const L=(t,lx,ly,c)=>T(lx,ly,t,{size:11,anchor:"middle",fill:c||INK});
  const S=(t,lx,ly,c)=>T(lx,ly,t,{size:8.6,anchor:"middle",fill:c||"#444"});
  L("Rck2",707,280.3); arrow(726.7,280,732.7,280.7); S("Thr379",707,291);
  curve(710.7,297.3,716,304,732.7,304);
  L("Rck2",688.7,300.7); S("Ser520",688.7,312); arrow(688.7,318,688.7,324.5);
  L("Sko1",638.3,293); S("Thr215",638.3,303.7); arrow(653.3,292.7,659.5,292.7);
  L("Aim21",741.7,331); arrow(756.7,328.3,762.7,324);
  L("Ste50",672.7,338.3); arrow(672.7,347.3,672.7,354);
  L("Are2",651.3,348); arrow(651,354,651,359.3);
  L("Rgc1",613.3,365); S("Ser975",613.3,375.7); arrow(626.7,364,632.7,367.3); arrow(627.3,374.3,632.7,376.3);
  L("Ssk2",545.3,349); S("Ser74",545.3,359.7); curve(545,364,544,386,534,394.3);
  L("Rgc2",564,371); S("Thr808",564,382); arrow(564,390,563.3,395.5);
  L("Rgc1",549.3,392.7); S("Ser817",550,403.3); arrow(536.7,409.3,536.7,415.7);
  L("Sko1",506,371); S("Ser108/Thr113",506.5,382); curve(520,388,524,396,521.7,404.3);
  L("Rgc2",485.7,391); S("Ser948",485.7,402); arrow(485.7,407.7,485.7,414);
  L("Art5",663.3,391.7); arrow(663,402.7,663,409);
  L("Rck2",712.3,407.7); S("Ser520",712.3,419); arrow(698.3,411.7,693,414.7);
  L("Get2",699.3,436.7); arrow(684,432.3,677.7,430.3); arrow(684,437.7,678.3,435);
  L("Chs5",674.3,452.7); arrow(661,448.3,655,444.3); arrow(661,456.7,655,460);
  L("Hot1",585.7,431.7); S("Ser153",585.7,442.7); arrow(586,450.7,586,457.3);
  L("Rgc1",630.7,469.3); S("Thr774",630.7,480); arrow(616.7,460.7,611,457.7);
  L("Sec9",534,464); S("Ser315",534,474); arrow(548.3,467.3,554,464); arrow(549,471.7,554,475);
  L("Pan1",560,485.7); S("Ser1003",560,495); S("Ser748",562.7,502); arrow(556.7,506.7,556.7,512); arrow(561,510,561,515.5);
  L("Ede1",590,498); S("Thr1307",590,508.3); arrow(590.3,514,590.3,520);
  L("Nup2",514,496.7,"#fff"); S("Ser540",514.3,506,"#fff"); arrow(525,505,531,508.3,"#fff");
  L("Rtg3",487.3,517.7,"#fff"); S("Ser376",487.3,527.3,"#fff"); arrow(519.3,526,513.3,520,"#fff");
  L("Hsl1",517.7,532,"#fff"); S("Ser1120",518.3,541.7,"#fff"); arrow(486,533.3,491,537.3,"#fff");
  L("Nha1",556,530,"#fff"); S("Thr765",556,540,"#fff"); arrow(543.3,527.3,537.3,523.3,"#fff"); arrow(543.3,530.7,537.3,528.3,"#fff");
  S("Thr1031",382.3,582.7); arrow(396,579,401.3,575.7);
  L("Kin2",388.3,597.3); S("Ser706",411,607.7); arrow(411.7,601.7,411.7,596.5);
  L("Ppz1",358.7,675); S("Ser253",359.3,686); arrow(372,679,377.3,682.7);
  L("Ppz1",277.3,691.7); S("Ser249",277.7,702.3); arrow(293.3,696.7,299.3,701); arrow(293.3,700,299.3,704);
})();

// ---------- E: HEATMAP ----------
(function(){
  const colX=d3.scaleBand().domain(heatCols).range([60.5,102.3]);
  const rowY=d3.scaleBand().domain(goTerms).range([875.7,1156.7]);
  const gray=d3.scaleLinear().domain([0,12]).range(["#ffffff","#0a0a0a"]);
  const colors={m:"#ee1c25",c:"#8c8c8c",t:"#3f63b5",o:"#222"};
  const vals=[heatField1,heatField8,heatBack];
  const colLabelX=[70,84.5,98.5];
  heatCols.forEach((c,ci)=>{
    svg.append("g").selectAll("rect").data(vals[ci]).join("rect").attr("x",colX(c)).attr("width",colX.bandwidth()+.2)
      .attr("y",(d,i)=>rowY(goTerms[i])).attr("height",rowY.bandwidth()+.2).attr("fill",d=>gray(d));
    T(colLabelX[ci],872.5,c,{size:12,italic:1,rot:-70,dy:0});
  });
  svg.append("rect").attr("x",60).attr("y",875.7).attr("width",42.7).attr("height",281).attr("fill","none").attr("stroke","#777").attr("stroke-width",1);
  goTerms.forEach((t,i)=>T(105.7,879+i*10.527,t,{size:12,fill:colors[goClass[i]]}));
  T(107,1171.7,"fold enrichment",{size:12,anchor:"middle"});
  const lg=defs.append("linearGradient").attr("id","lg");
  lg.append("stop").attr("offset",0).attr("stop-color","#fff"); lg.append("stop").attr("offset",1).attr("stop-color","#000");
  const sc=d3.scaleLinear().domain([0,12]).range([59,154]);
  svg.append("rect").attr("x",sc(0)).attr("y",1178).attr("width",sc(12)-sc(0)).attr("height",8.6).attr("fill","url(#lg)").attr("stroke","#555").attr("stroke-width",.7);
  [0,4,8,12].forEach(v=>T(sc(v)-(v==12?1:0),1195.7,v,{size:12,anchor:"middle"}));
  const ly=[1172,1183,1194,1205.6];
  legendKinds.forEach((k,i)=>{
    svg.append("rect").attr("x",179.3).attr("y",ly[i]-2).attr("width",7.4).attr("height",4).attr("fill",k[1]=="o"?"#222":colors[k[1]]);
    T(189.5,ly[i],k[0],{size:12.1});
  });
  T(179,1217,"p-value < 0.05",{size:12.1});
})();

// ---------- F: LOGOS ----------
(function(){
  const fill=l=>({S:"#93cdf0",T:"#93cdf0",R:"#1f5fa8",K:"#1f5fa8",H:"#1f5fa8",D:"#e3202a",E:"#e3202a",N:"#b3287c",Q:"#b3287c",G:"#1a9450",P:"#1b7f43",Y:"#111",C:"#111",A:"#111",V:"#111",L:"#111",I:"#111",M:"#111",F:"#7b4fa3",X:"#111",O:"#b3287c"}[l]||"#111");
  const ctx=document.createElement("canvas").getContext("2d"); ctx.font="bold 20px 'Liberation Sans'";
  const FS=20;
  function logo(x0,y0,cols,score,scoreX){
    const W=131,H=39.5,pad=2,cw=(W-2*pad)/15;
    const px=d3.scaleBand().domain(d3.range(15)).range([x0+pad,x0+W-pad]);
    cols.forEach((c,ci)=>{
      const parts=[...c.matchAll(/([A-Z])(\d+)/g)].map(m=>[m[1],+m[2]]);
      const tot=d3.sum(parts,p=>p[1]);
      let yy=y0+pad;const h=H-2*pad;
      parts.forEach(p=>{
        const lh=p[1]/tot*h, adv=ctx.measureText(p[0]).width;
        svg.append("text").text(p[0]).attr("font-size",FS).attr("font-weight","bold").attr("fill",fill(p[0]))
          .attr("transform",`translate(${px(ci)},${yy+lh}) scale(${cw/adv},${lh/(FS*.72)})`);
        yy+=lh;
      });
    });
    svg.append("rect").attr("x",x0).attr("y",y0).attr("width",W).attr("height",H).attr("fill","none").attr("stroke","#333").attr("stroke-width",1.4);
    svg.append("line").attr("x1",x0).attr("x2",x0+W).attr("y1",y0+H+2).attr("y2",y0+H+2).attr("stroke","#666").attr("stroke-width",1);
    d3.range(-7,8).forEach((v,i)=>{
      const tx=px(i)+cw/2+.5, ty=y0+H+4;
      T(tx,ty,v>0?"+ "+v:(v<0?"- "+(-v):"0"),{size:9,anchor:"end",rot:-90,fill:"#222"});
    });
    T(scoreX,y0+H/2-1,score,{anchor:"end"});
  }
  const ys1=[875.7,937.7,1000];
  logoField1.forEach((l,i)=>logo(459,ys1[i],l.cols,l.score,454));
  const ys2=[875.7,937.7,1000,1062.3];
  logoField8.forEach((l,i)=>logo(644,ys2[i],l.cols,l.score,641));
  T(520,866,"Field 1",{anchor:"middle"}); T(708,866,"Field 8",{anchor:"middle"});
  T(433,874,"score",{anchor:"middle"}); T(620,874,"score",{anchor:"middle"});
  T(774,1132,"p-value < 0.05",{anchor:"end",size:11.6});
})();
</script></body></html>
